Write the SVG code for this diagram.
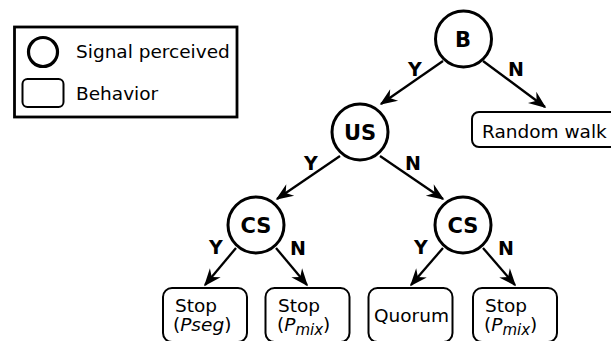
<svg xmlns="http://www.w3.org/2000/svg" width="611" height="341" viewBox="0 0 611 341">
  <style>
    text { font-family: "DejaVu Sans", "Liberation Sans", sans-serif; fill: #000; }
    .sig { fill: #fff; stroke: #000; stroke-width: 3; }
    .beh { fill: #fff; stroke: #000; stroke-width: 2; }
    .lbl { font-size: 18.5px; }
    .nodelbl { font-size: 21px; font-weight: bold; text-anchor: middle; }
    .yn { font-size: 19px; font-weight: bold; text-anchor: middle; }
    .edge { stroke: #000; stroke-width: 2.3; fill: none; marker-end: url(#arrow); }
    .it { font-style: italic; }
  </style>
  <defs>
    <marker id="arrow" markerUnits="userSpaceOnUse" markerWidth="30" markerHeight="30" refX="0" refY="0" viewBox="-20 -10 30 20" orient="auto" overflow="visible">
      <path d="M1.5,0 L-16,-7 L-10.5,0 L-16,7 Z" fill="#000"/>
    </marker>
  </defs>

  <!-- Legend -->
  <g id="legend">
    <rect x="14.5" y="27" width="222.5" height="90" fill="#fff" stroke="#000" stroke-width="2.8"/>
    <circle cx="43" cy="52" r="14.5" fill="none" stroke="#000" stroke-width="3.2"/>
    <rect x="22.5" y="79" width="41" height="28" rx="5" class="beh"/>
    <text x="76" y="57.5" class="lbl">Signal perceived</text>
    <text x="76" y="100" class="lbl">Behavior</text>
  </g>

  <!-- Connectors -->
  <g id="connectors">
    <line x1="443" y1="61" x2="381" y2="104" class="edge"/>
    <line x1="483" y1="61" x2="545" y2="107" class="edge"/>
    <line x1="340" y1="156" x2="277" y2="199" class="edge"/>
    <line x1="380" y1="156" x2="443" y2="199" class="edge"/>
    <line x1="236" y1="248" x2="205" y2="285" class="edge"/>
    <line x1="276" y1="248" x2="307" y2="285" class="edge"/>
    <line x1="443" y1="248" x2="411" y2="285" class="edge"/>
    <line x1="483" y1="248" x2="515" y2="285" class="edge"/>
    <!-- branch labels -->
    <text x="415" y="76" class="yn">Y</text>
    <text x="516" y="76" class="yn">N</text>
    <text x="311" y="170" class="yn">Y</text>
    <text x="413" y="170" class="yn">N</text>
    <text x="216" y="254" class="yn">Y</text>
    <text x="298" y="255" class="yn">N</text>
    <text x="421" y="254" class="yn">Y</text>
    <text x="506" y="255" class="yn">N</text>
  </g>

  <!-- Signal nodes -->
  <g id="node-b">
    <circle cx="463.5" cy="39" r="28" class="sig"/>
    <text x="463" y="47" class="nodelbl">B</text>
  </g>
  <g id="node-us">
    <circle cx="360" cy="132" r="28" class="sig"/>
    <text x="360" y="140" class="nodelbl">US</text>
  </g>
  <g id="node-cs-left">
    <circle cx="256" cy="225" r="28" class="sig"/>
    <text x="256" y="232.5" class="nodelbl">CS</text>
  </g>
  <g id="node-cs-right">
    <circle cx="463" cy="225" r="28" class="sig"/>
    <text x="463" y="232.5" class="nodelbl">CS</text>
  </g>

  <!-- Behavior nodes -->
  <g id="node-random-walk">
    <rect x="472" y="112" width="150" height="35" rx="7" class="beh"/>
    <text x="482" y="137.5" class="lbl">Random walk</text>
  </g>
  <g id="node-stop-pseg">
    <rect x="163" y="288" width="84" height="54" rx="9" class="beh"/>
    <text x="175" y="311.5" class="lbl">Stop</text>
    <text x="173" y="331" class="lbl">(<tspan class="it">Pseg</tspan>)</text>
  </g>
  <g id="node-stop-pmix-left">
    <rect x="265.5" y="288" width="84" height="54" rx="9" class="beh"/>
    <text x="278" y="311.5" class="lbl">Stop</text>
    <text x="277" y="331" class="lbl">(<tspan class="it">P</tspan><tspan class="it" font-size="15" dy="3.5">mix</tspan><tspan dy="-3.5">)</tspan></text>
  </g>
  <g id="node-quorum">
    <rect x="368.5" y="288" width="84" height="54" rx="9" class="beh"/>
    <text x="374" y="322" class="lbl">Quorum</text>
  </g>
  <g id="node-stop-pmix-right">
    <rect x="473" y="288" width="84" height="54" rx="9" class="beh"/>
    <text x="485" y="311.5" class="lbl">Stop</text>
    <text x="484" y="331" class="lbl">(<tspan class="it">P</tspan><tspan class="it" font-size="15" dy="3.5">mix</tspan><tspan dy="-3.5">)</tspan></text>
  </g>
</svg>
